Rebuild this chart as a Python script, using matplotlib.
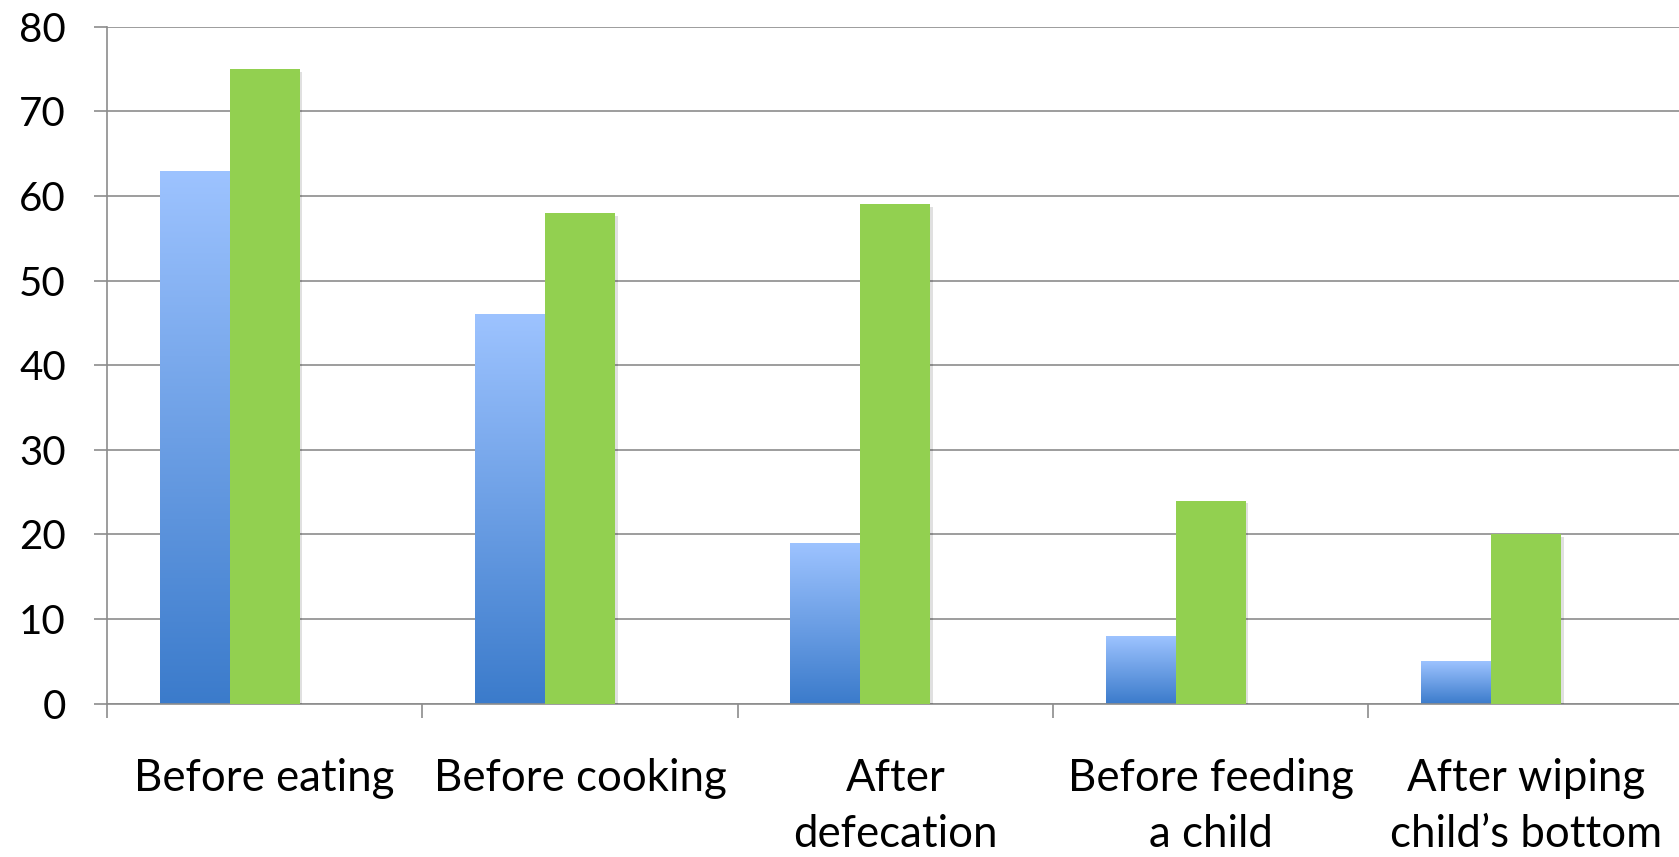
import matplotlib.pyplot as plt
import matplotlib.patheffects as pe
import numpy as np
from matplotlib.colors import LinearSegmentedColormap

# 数据
categories = ["Before eating", "Before cooking", "After\ndefecation",
              "Before feeding\na child", "After wiping\nchild\u2019s bottom"]
blue_values = [63, 46, 19, 8, 5]
green_values = [75, 58, 59, 24, 20]
y_ticks = [0, 10, 20, 30, 40, 50, 60, 70, 80]

plt.rcParams["font.family"] = ["Lato", "DejaVu Sans"]

fig = plt.figure(figsize=(16.79, 8.57), dpi=100)
ax = fig.add_axes([0.0637, 0.1791, 0.9391, 0.7896])

x = np.arange(len(categories))
w = 1 / 4.5  # 3 series slots + 150% gap

grid_c = "#8c8c8c"
ax.set_axisbelow(True)
ax.yaxis.grid(True, color=grid_c, linewidth=1.2)

shadow = [pe.SimplePatchShadow(offset=(2, -2), shadow_rgbFace="black", alpha=0.12), pe.Normal()]

# 蓝色渐变柱
cmap = LinearSegmentedColormap.from_list("bl", ["#3b7bcb", "#9dc3ff"])
grad = np.linspace(0, 1, 256).reshape(-1, 1)
blue_bars = ax.bar(x - w, blue_values, width=w, color="#3b7bcb", linewidth=0,
                   path_effects=shadow, zorder=2)
for b in blue_bars:
    x0, h, bw = b.get_x(), b.get_height(), b.get_width()
    im = ax.imshow(grad, cmap=cmap, origin="lower", aspect="auto",
                   extent=(x0, x0 + bw, 0, h), interpolation="bicubic", zorder=2.1)
    im.set_clip_path(b)

# 绿色柱
ax.bar(x, green_values, width=w, color="#92d050", linewidth=0,
       path_effects=shadow, zorder=3)

ax.set_xlim(-0.5, len(categories) - 0.5)
ax.set_ylim(0, 80)

ax.set_yticks(y_ticks)
ax.tick_params(axis="y", direction="out", length=9.5, width=1.2, color=grid_c,
               labelsize=29, pad=20)

ax.set_xticks(np.arange(-0.5, len(categories)), minor=False)
ax.set_xticklabels([""] * (len(categories) + 1))
ax.set_xticks(x, minor=True)
ax.set_xticklabels(categories, minor=True, fontsize=31.5, linespacing=1.45)
ax.tick_params(axis="x", which="major", direction="out", length=10, width=1.2, color=grid_c)
ax.tick_params(axis="x", which="minor", length=0, pad=39)

for s in ["top", "right"]:
    ax.spines[s].set_visible(False)
for s in ["left", "bottom"]:
    ax.spines[s].set_color(grid_c)
    ax.spines[s].set_linewidth(1.2)

fig.savefig("out.png", dpi=100)
